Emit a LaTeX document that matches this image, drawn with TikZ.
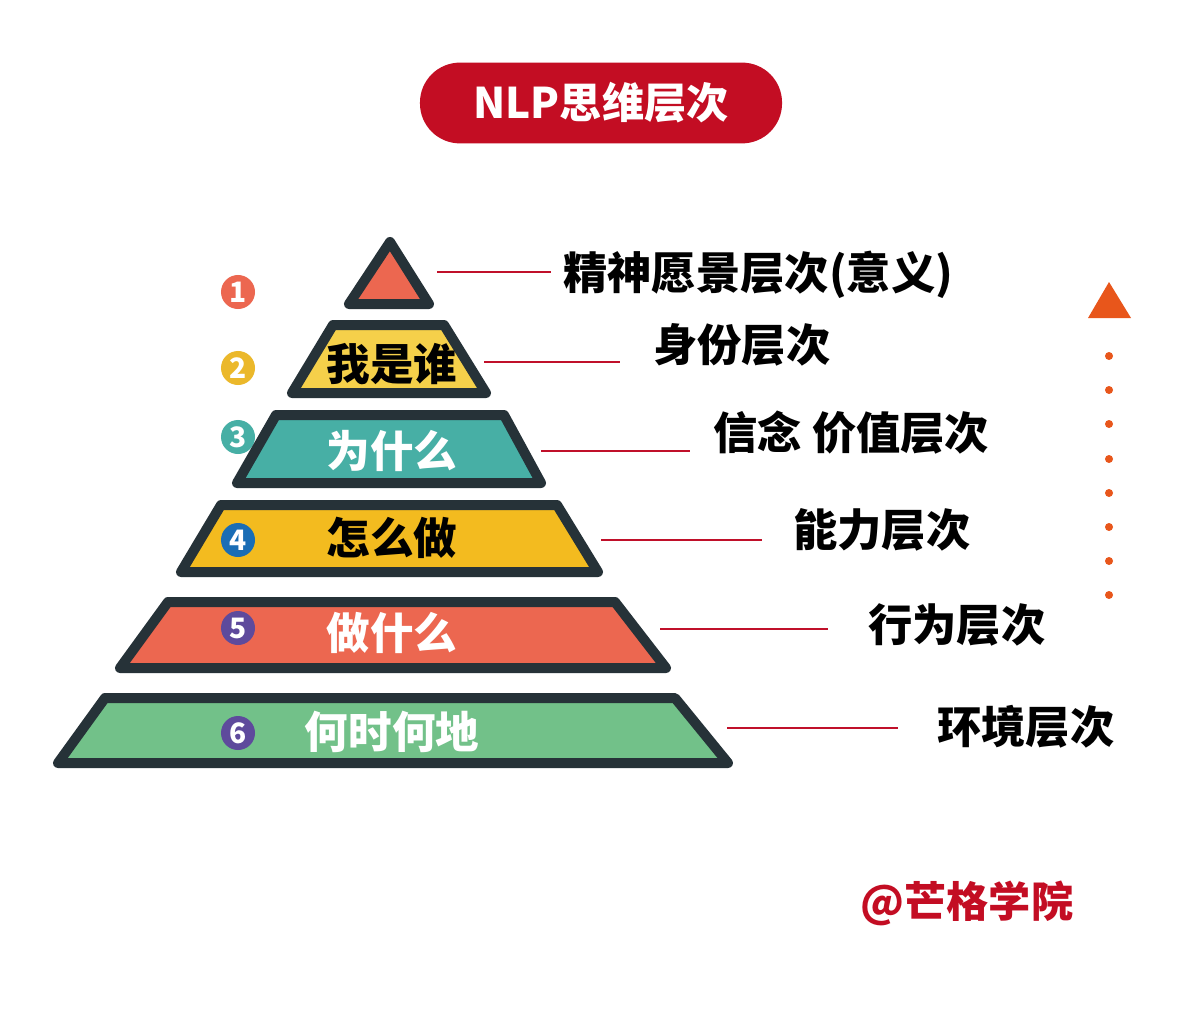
\documentclass[tikz,border=0pt]{standalone}
\usepackage{fontspec}
\setmainfont{Noto Sans CJK SC}
\usepackage{tikz}
\usetikzlibrary{arrows.meta}
\definecolor{brand}{HTML}{C30D23}
\definecolor{edge}{HTML}{263238}
\definecolor{coral}{HTML}{EC6750}
\definecolor{sun}{HTML}{F5D04A}
\definecolor{teal}{HTML}{47AFA5}
\definecolor{amber}{HTML}{F3BB1F}
\definecolor{leaf}{HTML}{72C189}
\definecolor{gold}{HTML}{EBB82B}
\definecolor{navy}{HTML}{1A6DB5}
\definecolor{plum}{HTML}{5E4A9C}
\definecolor{flame}{HTML}{E8561B}
\definecolor{wire}{HTML}{C0102A}

\begin{document}
\begin{tikzpicture}[x=0.025cm,y=-0.025cm,
  layer/.style={draw=edge,line width=0.25cm,line join=round},
  num/.style={circle,minimum size=0.85cm,inner sep=0pt,text=white,font=\fontsize{20pt}{20pt}\bfseries},
  word/.style={font=\fontsize{31pt}{36pt}\bfseries,inner sep=0pt},
  lab/.style={anchor=west,font=\fontsize{31.5pt}{36pt}\bfseries,inner sep=0pt},
  rline/.style={draw=wire,line width=0.065cm}]
\fill[white] (0,0) rectangle (1200,1030);
\useasboundingbox (0,0) rectangle (1200,1030);
% title
\node[fill=brand,rounded corners=1cm,minimum width=9.05cm,minimum height=2.02cm,text=white,font=\fontsize{30pt}{36pt}\bfseries] (title) at (601,103) {NLP思维层次};
% number badges, behind the layers
\node[num,fill=coral] (n1) at (238,292) {1};
\node[num,fill=gold] (n2) at (238,368) {2};
\node[num,fill=teal] (n3) at (238,437) {3};
\node[num,fill=navy] (n4) at (238,540) {4};
\node[num,fill=plum] (n5) at (238,628) {5};
\node[num,fill=plum] (n6) at (238,733) {6};
% pyramid layers
\draw[layer,fill=coral] (390,242) -- (429,304) -- (349,304) -- cycle;
\draw[layer,fill=sun] (333,325) -- (444,325) -- (486,393) -- (292,393) -- cycle;
\draw[layer,fill=teal] (276,415) -- (504,415) -- (541,483) -- (237,483) -- cycle;
\draw[layer,fill=amber] (221,505) -- (557,505) -- (598,572) -- (181,572) -- cycle;
\draw[layer,fill=coral] (168,602) -- (615,602) -- (666,668) -- (120,668) -- cycle;
\draw[layer,fill=leaf] (105,698) -- (675,698) -- (728,763) -- (58,763) -- cycle;
% badges that sit on the layers
\node[num,fill=navy] at (n4) {4};
\node[num,fill=plum] at (n5) {5};
\node[num,fill=plum] at (n6) {6};
% layer words
\node[word] (w2) at (392,364) {我是谁};
\node[word,text=white] (w3) at (392,451) {为什么};
\node[word] (w4) at (392,538) {怎么做};
\node[word,text=white] (w5) at (392,633) {做什么};
\node[word,text=white] (w6) at (392,732) {何时何地};
% side labels
\node[lab] (l1) at (563,275) {精神愿景层次(意义)};
\node[lab] (l2) at (653,345) {身份层次};
\node[lab] (l3) at (713,433) {信念 价值层次};
\node[lab] (l4) at (793,530) {能力层次};
\node[lab] (l5) at (868,625) {行为层次};
\node[lab] (l6) at (937,727) {环境层次};
\coordinate (s1) at (437,272);
\coordinate (s2) at (484,362);
\coordinate (s3) at (541,451);
\coordinate (s4) at (601,540);
\coordinate (s5) at (660,629);
\coordinate (s6) at (727,728);
\draw[rline,shorten >=0.3cm] (s1) -- (s1 -| l1.west);
\draw[rline,shorten >=0.825cm] (s2) -- (s2 -| l2.west);
\draw[rline,shorten >=0.575cm] (s3) -- (s3 -| l3.west);
\draw[rline,shorten >=0.775cm] (s4) -- (s4 -| l4.west);
\draw[rline,shorten >=1cm] (s5) -- (s5 -| l5.west);
\draw[rline,shorten >=0.975cm] (s6) -- (s6 -| l6.west);
% rising arrow of dots
\fill[flame] (1109,282) -- (1131,318) -- (1088,318) -- cycle;
\foreach \y in {356,390,424,459,493,527,561,595}
  \fill[flame] (1109,\y) circle (0.1cm);
% mark
\node[text=brand,font=\fontsize{30pt}{36pt}\bfseries,inner sep=0pt] (mark) at (967,903) {@芒格学院};
\end{tikzpicture}
\end{document}
